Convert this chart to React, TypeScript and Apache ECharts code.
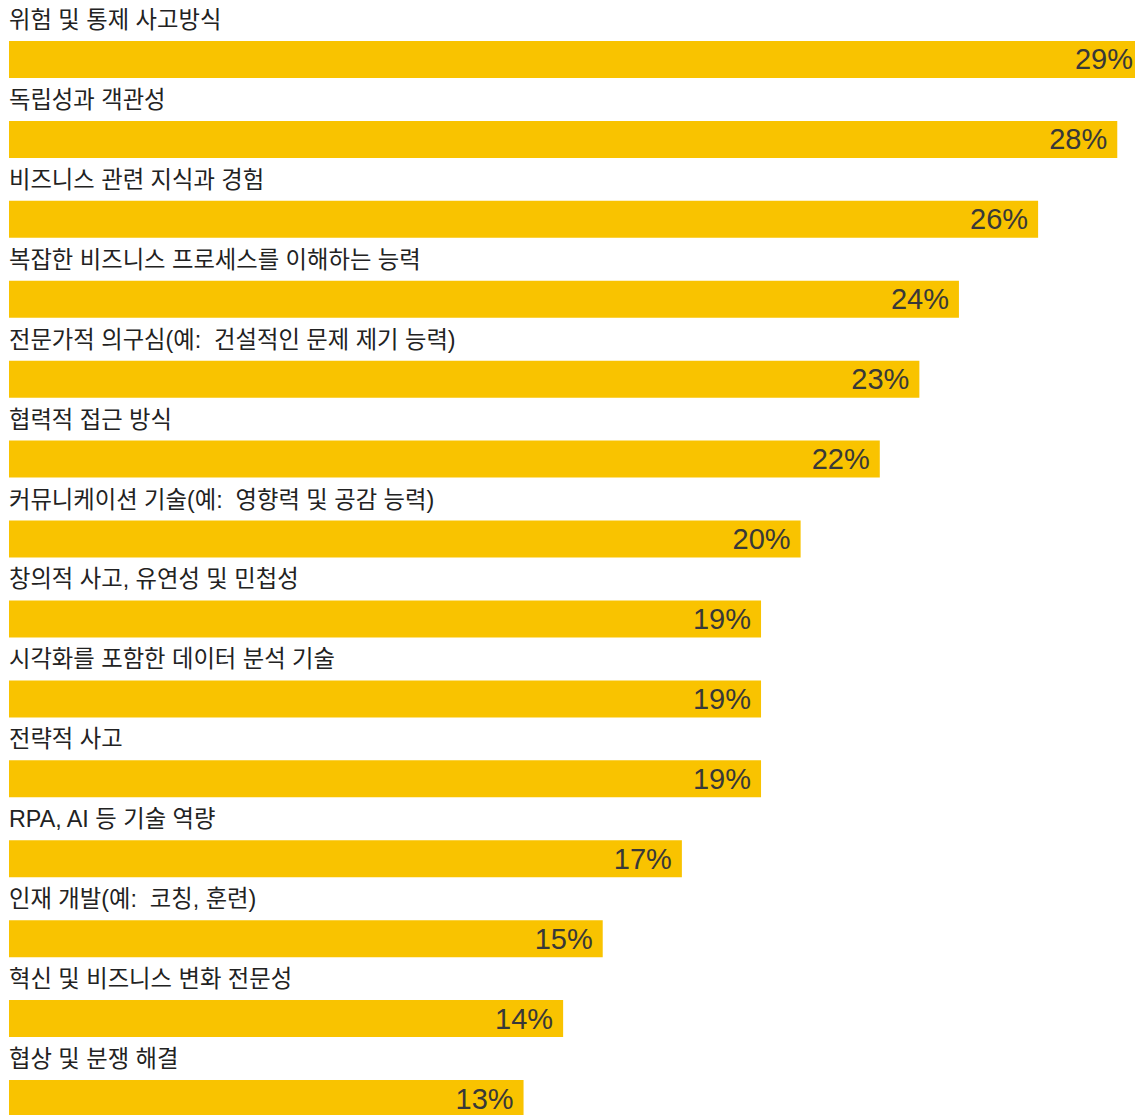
import React, { useEffect, useRef } from "react";
import * as echarts from "echarts";

const categories = [
  "위험 및 통제 사고방식",
  "독립성과 객관성",
  "비즈니스 관련 지식과 경험",
  "복잡한 비즈니스 프로세스를 이해하는 능력",
  "전문가적 의구심(예:  건설적인 문제 제기 능력)",
  "협력적 접근 방식",
  "커뮤니케이션 기술(예:  영향력 및 공감 능력)",
  "창의적 사고, 유연성 및 민첩성",
  "시각화를 포함한 데이터 분석 기술",
  "전략적 사고",
  "RPA, AI 등 기술 역량",
  "인재 개발(예:  코칭, 훈련)",
  "혁신 및 비즈니스 변화 전문성",
  "협상 및 분쟁 해결",
];

const values = [28.65, 28, 26, 24, 23, 22, 20, 19, 19, 19, 17, 15, 14, 13];

const BAR_COLOR = "#F9C300";

export default function App() {
  const ref = useRef<HTMLDivElement>(null);

  useEffect(() => {
    document.documentElement.style.overflow = "hidden";
    if (!ref.current) return;
    const chart = echarts.init(ref.current, null, { renderer: "svg" });
    chart.setOption({
      animation: false,
      grid: { left: 1, right: 10, top: 11.5, height: 1119, containLabel: false },
      xAxis: {
        type: "value",
        min: 0,
        max: "dataMax",
        show: false,
      },
      yAxis: {
        type: "category",
        data: categories,
        inverse: true,
        show: false,
      },
      series: [
        {
          type: "bar",
          data: values,
          barWidth: 37,
          itemStyle: { color: BAR_COLOR },
          label: {
            show: true,
            position: "insideRight",
            distance: 10,
            formatter: (p: any) => `${Math.round(p.value)}%`,
            fontFamily: "Liberation Sans, Arial, sans-serif",
            fontSize: 29,
            color: "#383838",
          },
        },
        {
          type: "bar",
          data: values,
          barWidth: 37,
          barGap: "-100%",
          silent: true,
          itemStyle: { color: "transparent" },
          label: {
            show: true,
            position: [0, -21],
            align: "left",
            verticalAlign: "middle",
            formatter: "{b}",
            fontFamily: "Liberation Sans, 'Noto Sans CJK KR', sans-serif",
            fontSize: 23.3,
            color: "#222222",
          },
        },
      ],
    });
    return () => chart.dispose();
  }, []);

  return <div ref={ref} style={{ width: 1145, height: 1140 }} />;
}
